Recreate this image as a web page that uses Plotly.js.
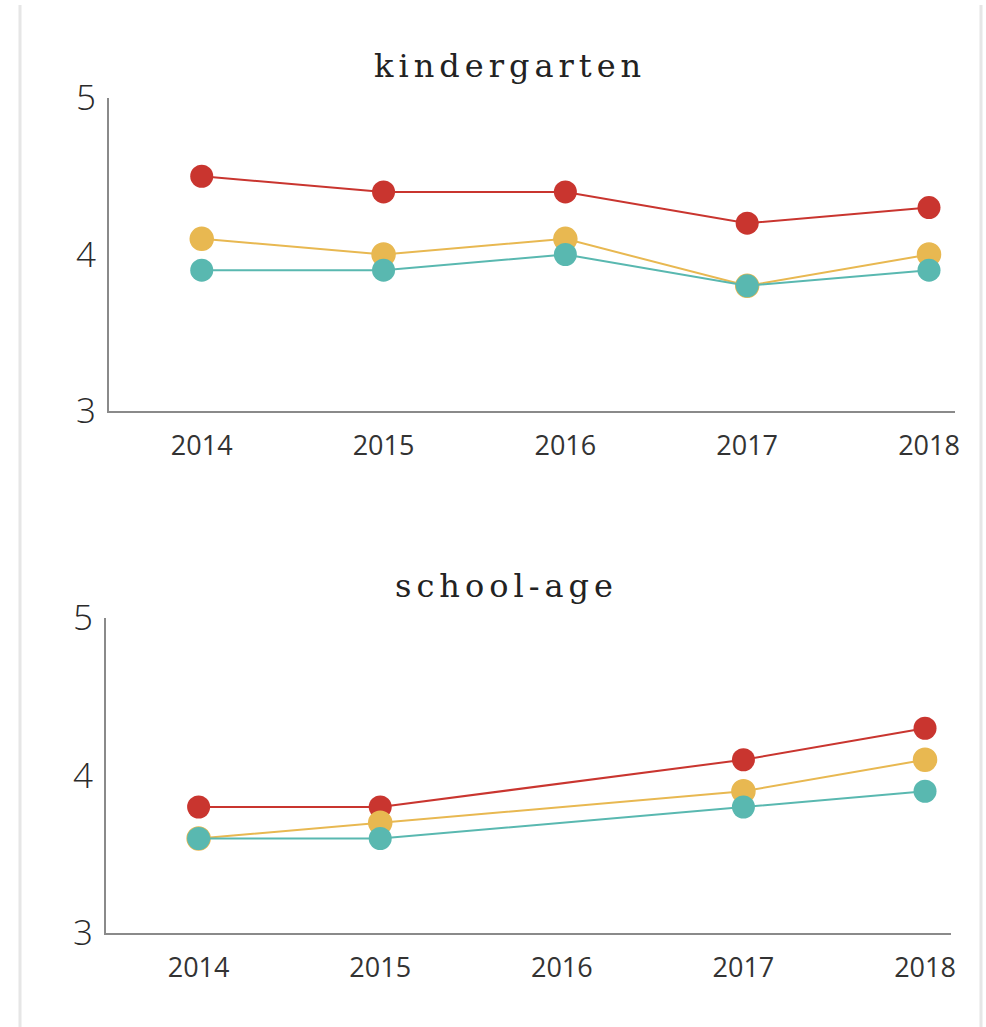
<!DOCTYPE html>
<html>
<head>
<meta charset="utf-8">
<script src="https://cdn.plot.ly/plotly-3.0.1.min.js"></script>
<style>
  html, body { margin: 0; padding: 0; background: #fff; }
  #chart { width: 986px; height: 1027px; }
  .annotation-text { letter-spacing: 5px; }
</style>
</head>
<body>
<div id="chart"></div>
<script>
// ---- data ----
const panelTitles = ['kindergarten', 'school-age'];
const kgYears = [2014, 2015, 2016, 2017, 2018];
const kgRed   = [4.5, 4.4, 4.4, 4.2, 4.3];
const kgGold  = [4.1, 4.0, 4.1, 3.8, 4.0];
const kgTeal  = [3.9, 3.9, 4.0, 3.8, 3.9];

const saYears = [2014, 2015, 2017, 2018];
const saRed   = [3.8, 3.8, 4.1, 4.3];
const saGold  = [3.6, 3.7, 3.9, 4.1];
const saTeal  = [3.6, 3.6, 3.8, 3.9];

const xTickVals = [2014, 2015, 2016, 2017, 2018];
const xTickText = ['2014', '2015', '2016', '2017', '2018'];
const yTickVals = [3, 4, 5];
const yTickText = ['3', '4', '5'];

// ---- styles ----
const RED = '#C9352F', GOLD = '#E8B851', TEAL = '#59B8B0';
const W = 986, H = 1027;

function series(x, y, color, xa, ya, name, outline) {
  return {
    type: 'scatter', mode: 'lines+markers', x: x, y: y, name: name,
    xaxis: xa, yaxis: ya, showlegend: false, hoverinfo: 'x+y',
    line: { color: color, width: 2 },
    marker: { color: color, size: 23, line: { color: color, width: outline } }
  };
}

const data = [
  series(kgYears, kgRed,  RED,  'x',  'y',  'Series 1', 0),
  series(kgYears, kgGold, GOLD, 'x',  'y',  'Series 2', 1.5),
  series(kgYears, kgTeal, TEAL, 'x',  'y',  'Series 3', 0),
  series(saYears, saRed,  RED,  'x2', 'y2', 'Series 1', 0),
  series(saYears, saGold, GOLD, 'x2', 'y2', 'Series 2', 1.5),
  series(saYears, saTeal, TEAL, 'x2', 'y2', 'Series 3', 0)
];

const xCommon = {
  range: [2013.49, 2018.143], tickmode: 'array', tickvals: xTickVals, ticktext: xTickText,
  showgrid: false, zeroline: false, showline: true, linecolor: '#8a8a8a', linewidth: 2,
  ticks: '', ticklabelstandoff: 10, automargin: false,
  tickfont: { family: 'Open Sans, sans-serif', size: 27, color: '#333' }, fixedrange: true
};
const yCommon = {
  range: [3, 5], tickmode: 'array', tickvals: yTickVals, ticktext: yTickText,
  showgrid: false, zeroline: false, showline: true, linecolor: '#8a8a8a', linewidth: 2,
  ticks: '', ticklabelstandoff: 4, automargin: false,
  tickfont: { family: 'Open Sans, sans-serif', size: 35, color: '#2a2a2a', weight: 300 }, fixedrange: true
};

const layout = {
  width: W, height: H,
  margin: { l: 0, r: 0, t: 0, b: 0, pad: 0 },
  paper_bgcolor: '#fff', plot_bgcolor: 'rgba(0,0,0,0)',
  showlegend: false,
  xaxis:  Object.assign({}, xCommon, { domain: [109 / W, 955 / W], anchor: 'y' }),
  yaxis:  Object.assign({}, yCommon, { domain: [(H - 411) / H, (H - 98) / H], anchor: 'x' }),
  xaxis2: Object.assign({}, xCommon, { domain: [106 / W, 951 / W], anchor: 'y2' }),
  yaxis2: Object.assign({}, yCommon, { domain: [(H - 933) / H, (H - 618) / H], anchor: 'x2' }),
  annotations: [
    { text: panelTitles[0], xref: 'paper', yref: 'paper', x: 510 / W, y: (H - 66) / H,
      xanchor: 'center', yanchor: 'middle', showarrow: false,
      font: { family: 'DejaVu Serif, serif', size: 32, color: '#222' } },
    { text: panelTitles[1], xref: 'paper', yref: 'paper', x: 506 / W, y: (H - 586) / H,
      xanchor: 'center', yanchor: 'middle', showarrow: false,
      font: { family: 'DejaVu Serif, serif', size: 32, color: '#222' } }
  ],
  shapes: [
    { type: 'line', xref: 'paper', yref: 'paper', x0: 20 / W, x1: 20 / W, y0: 0, y1: (H - 5) / H,
      line: { color: '#e6e6e6', width: 3 } },
    { type: 'line', xref: 'paper', yref: 'paper', x0: 981 / W, x1: 981 / W, y0: 0, y1: (H - 5) / H,
      line: { color: '#e6e6e6', width: 3 } }
  ]
};

Plotly.newPlot('chart', data, layout, { displayModeBar: false, staticPlot: true });
</script>
</body>
</html>
